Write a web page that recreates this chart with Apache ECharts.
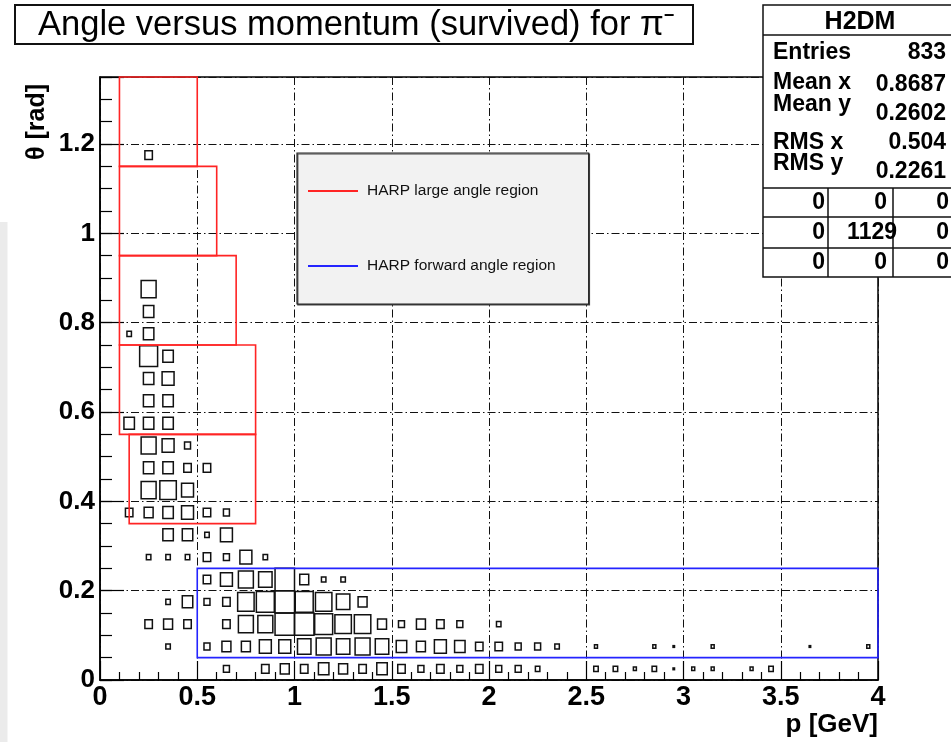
<!DOCTYPE html>
<html>
<head>
<meta charset="utf-8">
<script src="https://cdn.jsdelivr.net/npm/echarts@6/dist/echarts.min.js"></script>
<style>
  html, body { margin: 0; padding: 0; background: #ffffff; }
  #chart { width: 951px; height: 742px; }
</style>
</head>
<body>
<div id="chart"></div>
<script>
// Binning of the 2D histogram (GeV, rad)
const P_BIN = 0.1;
const THETA_BIN = 0.05;

// Entries per cell, one list per θ row: [p lower edge (GeV), entries]
const theta000 = [[0.6,4],[0.8,5],[0.9,6],[1.0,5],[1.1,7],[1.2,6],[1.3,5],[1.4,7],[1.5,5],[1.6,4],[1.7,5],[1.8,4],[1.9,5],[2.0,4],[2.1,4],[2.2,3],[2.5,3],[2.6,3],[2.7,2],[2.8,3],[2.9,1],[3.0,2],[3.1,2],[3.3,2],[3.4,3]];
const theta005 = [[0.3,3],[0.5,4],[0.6,6],[0.7,6],[0.8,8],[0.9,8],[1.0,9],[1.1,10],[1.2,9],[1.3,10],[1.4,9],[1.5,7],[1.6,6],[1.7,8],[1.8,7],[1.9,5],[2.0,5],[2.1,4],[2.2,4],[2.3,3],[2.5,2],[2.8,2],[2.9,1],[3.1,2],[3.6,1],[3.9,2]];
const theta010 = [[0.2,5],[0.3,6],[0.4,5],[0.6,5],[0.7,10],[0.8,10],[0.9,13],[1.0,13],[1.1,12],[1.2,11],[1.3,11],[1.4,6],[1.5,4],[1.6,6],[1.7,5],[1.8,4],[2.0,3]];
const theta015 = [[0.3,3],[0.4,7],[0.5,4],[0.6,5],[0.7,11],[0.8,12],[0.9,13],[1.0,12],[1.1,11],[1.2,9],[1.3,6]];
const theta020 = [[0.5,5],[0.6,8],[0.7,10],[0.8,9],[0.9,13],[1.0,6],[1.1,3],[1.2,3]];
const theta025 = [[0.2,3],[0.3,3],[0.4,3],[0.5,5],[0.6,4],[0.7,8],[0.8,3]];
const theta030 = [[0.3,7],[0.4,7],[0.5,3],[0.6,8]];
const theta035 = [[0.1,5],[0.2,6],[0.3,7],[0.4,8],[0.5,5],[0.6,4]];
const theta040 = [[0.2,10],[0.3,11],[0.4,8]];
const theta045 = [[0.2,7],[0.3,7],[0.4,5],[0.5,5]];
const theta050 = [[0.2,10],[0.3,8],[0.4,4]];
const theta055 = [[0.1,7],[0.2,7],[0.3,7]];
const theta060 = [[0.2,7],[0.3,7]];
const theta065 = [[0.2,7],[0.3,8]];
const theta070 = [[0.2,12],[0.3,7]];
const theta075 = [[0.1,3],[0.2,7]];
const theta080 = [[0.2,7]];
const theta085 = [[0.2,10]];
const theta115 = [[0.2,5]];

// θ lower edge of each row
const thetaRows = [
  [0.00, theta000], [0.05, theta005], [0.10, theta010], [0.15, theta015],
  [0.20, theta020], [0.25, theta025], [0.30, theta030], [0.35, theta035],
  [0.40, theta040], [0.45, theta045], [0.50, theta050], [0.55, theta055],
  [0.60, theta060], [0.65, theta065], [0.70, theta070], [0.75, theta075],
  [0.80, theta080], [0.85, theta085], [1.15, theta115]
];

// HARP acceptance regions: [p min, p max, θ min, θ max]
const largeAngleRegions = [
  [0.15, 0.8, 0.35, 0.55],
  [0.10, 0.8, 0.55, 0.75],
  [0.10, 0.7, 0.75, 0.95],
  [0.10, 0.6, 0.95, 1.15],
  [0.10, 0.5, 1.15, 1.35]
];
const forwardRegions = [
  [0.5, 4.0, 0.05, 0.25]
];

// Axis ranges and labels
const P_RANGE = [0, 4];
const THETA_RANGE = [0, 1.35];
const thetaTickLabels = ['0', '0.2', '0.4', '0.6', '0.8', '1', '1.2'];

// Statistics panel contents
const statsTitle = 'H2DM';
const statsRows = [['Entries', '833'], ['Mean x', '0.8687'], ['Mean y', '0.2602'], ['RMS x', '0.504'], ['RMS y', '0.2261']];
const statsCells = [['0', '0', '0'], ['0', '1129', '0'], ['0', '0', '0']];

const boxData = [];
thetaRows.forEach(([tLow, cells]) => {
  cells.forEach(([pLow, n]) => boxData.push([pLow, tLow, n]));
});
const maxCount = Math.max(...boxData.map(d => d[2]));

const FONT = 'Liberation Sans, Arial, Helvetica, sans-serif';

// box side proportional to the cell content
function renderBox(params, api) {
  const pLow = api.value(0), tLow = api.value(1), n = api.value(2);
  const a = api.coord([pLow, tLow]);
  const b = api.coord([pLow + P_BIN, tLow + THETA_BIN]);
  const w = b[0] - a[0], h = a[1] - b[1];
  const f = n / maxCount;
  const cx = (a[0] + b[0]) / 2, cy = (a[1] + b[1]) / 2;
  return {
    type: 'rect',
    shape: { x: cx - f * w / 2, y: cy - f * h / 2, width: f * w, height: f * h },
    style: { fill: 'none', stroke: '#111', lineWidth: 1.5 }
  };
}

function renderRegion(color) {
  return function (params, api) {
    const a = api.coord([api.value(0), api.value(2)]);
    const b = api.coord([api.value(1), api.value(3)]);
    return {
      type: 'rect',
      shape: { x: a[0], y: b[1], width: b[0] - a[0], height: a[1] - b[1] },
      style: { fill: 'none', stroke: color, lineWidth: 1.6 }
    };
  };
}

const chart = echarts.init(document.getElementById('chart'));

// statistics panel graphics
const ZS = 100;
const statsEls = [];
const SX = 763, SY = 5, SW = 200, SH = 272;
statsEls.push({ type: 'rect', z: ZS, shape: { x: SX, y: SY, width: SW, height: SH }, style: { fill: '#ffffff', stroke: '#111', lineWidth: 1.5 } });
[35, 188, 217, 248].forEach(y => statsEls.push({ type: 'line', z: ZS + 1, shape: { x1: SX, y1: y, x2: SX + SW, y2: y }, style: { stroke: '#111', lineWidth: 1.5 } }));
[828, 893].forEach(x => statsEls.push({ type: 'line', z: ZS + 1, shape: { x1: x, y1: 188, x2: x, y2: SY + SH }, style: { stroke: '#111', lineWidth: 1.5 } }));
statsEls.push({ type: 'text', z: ZS + 2, x: 860, y: 22, style: { text: statsTitle, font: 'bold 25px ' + FONT, fill: '#000', align: 'center', verticalAlign: 'middle' } });
const labelY = [53, 83, 105, 143, 164];
const valueY = [53, 85, 114, 143, 172];
statsRows.forEach(([lab, val], i) => {
  statsEls.push({ type: 'text', z: ZS + 2, x: 773, y: labelY[i], style: { text: lab, font: 'bold 23px ' + FONT, fill: '#000', align: 'left', verticalAlign: 'middle' } });
  statsEls.push({ type: 'text', z: ZS + 2, x: 946, y: valueY[i], style: { text: val, font: 'bold 23px ' + FONT, fill: '#000', align: 'right', verticalAlign: 'middle' } });
});
const cellRight = [825, 887, 949];
const cellY = [203, 233, 263];
statsCells.forEach((row, r) => row.forEach((v, c) => {
  const rx = (v.length > 1) ? cellRight[c] + 10 : cellRight[c];
  statsEls.push({ type: 'text', z: ZS + 2, x: rx, y: cellY[r], style: { text: v, font: 'bold 23px ' + FONT, fill: '#000', align: 'right', verticalAlign: 'middle' } });
}));

chart.setOption({
  animation: false,
  backgroundColor: '#ffffff',
  title: {
    text: '{m|Angle versus momentum (survived) for π}{s|−}',
    left: 15, top: 5,
    borderColor: '#111', borderWidth: 2,
    padding: [2, 19, 2, 23],
    textStyle: {
      fontWeight: 'normal',
      rich: {
        m: { fontSize: 34.5, fontWeight: 'normal', fontFamily: FONT, color: '#000', lineHeight: 36 },
        s: { fontSize: 18, fontWeight: 'bold', fontFamily: FONT, color: '#000', verticalAlign: 'top', lineHeight: 18 }
      }
    }
  },
  legend: {
    orient: 'vertical',
    left: 297, top: 153,
    backgroundColor: '#f2f2f2',
    borderColor: '#222', borderWidth: 1.2,
    shadowColor: '#444', shadowOffsetX: 0.8, shadowOffsetY: 1, shadowBlur: 0,
    padding: [29, 33, 29, 11],
    itemWidth: 50, itemHeight: 2, itemGap: 57,
    icon: 'rect',
    selectedMode: false,
    textStyle: { fontSize: 15.5, fontFamily: FONT, color: '#111', lineHeight: 18, padding: [0, 0, 0, 4] },
    data: [
      { name: 'HARP large angle region', itemStyle: { color: '#ff2424' } },
      { name: 'HARP forward angle region', itemStyle: { color: '#2424ff' } }
    ]
  },
  grid: {
    left: 100, top: 77, width: 778, height: 603,
    show: true, borderColor: '#000', borderWidth: 1.5, backgroundColor: 'transparent'
  },
  xAxis: [{
    type: 'value', min: P_RANGE[0], max: P_RANGE[1], interval: 0.5,
    axisLine: { show: true, lineStyle: { color: '#000', width: 1.5 } },
    axisTick: { show: true, inside: true, length: 19, lineStyle: { color: '#000', width: 1.2 } },
    minorTick: { show: true, splitNumber: 5, length: 8, lineStyle: { color: '#000', width: 1.2 } },
    splitLine: { show: true, lineStyle: { color: '#111', width: 1, type: [8, 3, 1.5, 3] } },
    axisLabel: { color: '#000', fontSize: 27, fontWeight: 'bold', fontFamily: FONT, margin: 4 },
    name: 'p [GeV]', nameLocation: 'end', nameGap: 0,
    nameTextStyle: { color: '#000', fontSize: 26, fontWeight: 'bold', fontFamily: FONT, align: 'right', verticalAlign: 'top', padding: [32, 0, 0, 0] }
  }],
  yAxis: [{
    type: 'value', min: THETA_RANGE[0], max: THETA_RANGE[1], interval: 0.2,
    axisLine: { show: true, lineStyle: { color: '#000', width: 1.5 } },
    axisTick: { show: true, inside: true, length: 24, lineStyle: { color: '#000', width: 1.2 } },
    splitLine: { show: true, lineStyle: { color: '#111', width: 1, type: [8, 3, 1.5, 3] } },
    axisLabel: {
      color: '#000', fontSize: 26, fontWeight: 'bold', fontFamily: FONT, margin: 5,
      formatter: v => { const k = Math.round(v / 0.2); return (Math.abs(v - k * 0.2) < 1e-6 && k < thetaTickLabels.length) ? thetaTickLabels[k] : ''; }
    }
  }, {
    type: 'value', min: THETA_RANGE[0], max: THETA_RANGE[1], interval: 0.05,
    position: 'left', offset: 0,
    axisLine: { show: false },
    axisTick: { show: true, inside: true, length: 12, lineStyle: { color: '#000', width: 1.2 } },
    axisLabel: { show: false },
    splitLine: { show: false }
  }],
  graphic: [
    { type: 'rect', shape: { x: 0, y: 222, width: 7.5, height: 520 }, style: { fill: '#ebebeb' }, z: 0 },
    { type: 'text', x: 37, y: 122, rotation: Math.PI / 2, z: 10,
      style: { text: 'θ [rad]', font: 'bold 25px ' + FONT, fill: '#000', align: 'center', verticalAlign: 'middle' } },
    ...statsEls
  ],
  series: [
    {
      name: 'entries', type: 'custom', renderItem: renderBox,
      data: boxData, clip: true, z: 3, silent: true
    },
    {
      name: 'HARP large angle region', type: 'custom', renderItem: renderRegion('#ff2424'),
      itemStyle: { color: '#ff2424' },
      data: largeAngleRegions, clip: false, z: 4, silent: true
    },
    {
      name: 'HARP forward angle region', type: 'custom', renderItem: renderRegion('#2424ff'),
      itemStyle: { color: '#2424ff' },
      data: forwardRegions, clip: false, z: 4, silent: true
    }
  ]
});
</script>
</body>
</html>
